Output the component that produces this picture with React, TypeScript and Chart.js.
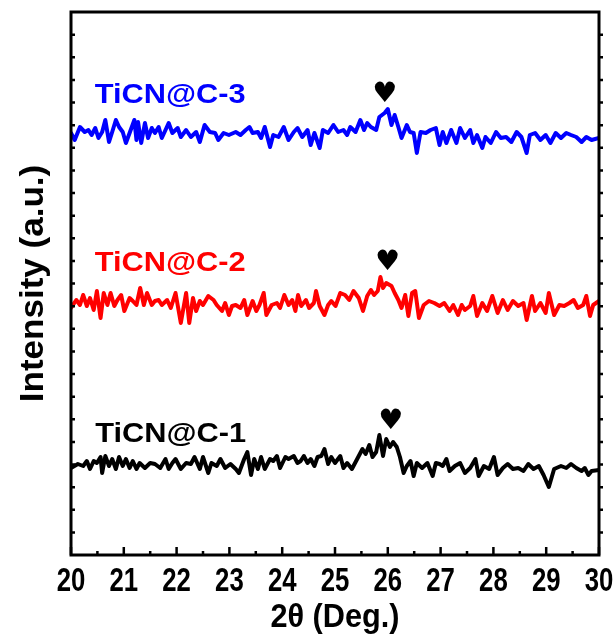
import React, { useEffect, useRef } from "react";
import { Chart, registerables } from "chart.js";

Chart.register(...registerables);

// 2θ (deg) / intensity (a.u.) pairs
const scanC3: [number, number][] = [[20.00,422],[20.07,415],[20.17,428],[20.26,423],[20.33,425],[20.39,420],[20.46,427],[20.52,417],[20.59,423],[20.65,435],[20.72,413],[20.78,423],[20.85,435],[20.91,428],[20.98,423],[21.04,412],[21.11,422],[21.20,435],[21.24,415],[21.27,433],[21.33,412],[21.40,432],[21.46,417],[21.53,427],[21.59,422],[21.66,428],[21.72,417],[21.79,425],[21.85,432],[21.92,422],[22.02,427],[22.08,418],[22.18,425],[22.27,418],[22.37,423],[22.44,413],[22.53,430],[22.63,423],[22.73,422],[22.79,415],[22.89,422],[22.99,420],[23.12,423],[23.21,420],[23.31,425],[23.38,428],[23.44,422],[23.54,423],[23.60,417],[23.67,428],[23.77,408],[23.83,420],[23.93,418],[24.03,428],[24.12,415],[24.22,423],[24.29,427],[24.38,418],[24.48,425],[24.54,410],[24.61,422],[24.71,407],[24.77,425],[24.87,422],[24.97,430],[25.06,423],[25.16,425],[25.23,420],[25.29,428],[25.39,423],[25.48,435],[25.55,425],[25.61,432],[25.68,428],[25.78,425],[25.84,438],[25.94,442],[26.00,446],[26.07,430],[26.13,440],[26.20,428],[26.26,417],[26.36,430],[26.42,423],[26.49,422],[26.55,402],[26.62,423],[26.72,422],[26.81,425],[26.91,427],[26.98,410],[27.04,423],[27.11,412],[27.20,425],[27.30,412],[27.37,427],[27.46,417],[27.56,425],[27.62,412],[27.69,420],[27.79,407],[27.85,418],[27.95,412],[28.05,423],[28.14,417],[28.24,418],[28.34,413],[28.44,423],[28.53,418],[28.63,402],[28.69,420],[28.79,422],[28.89,415],[28.99,420],[29.08,412],[29.18,422],[29.28,417],[29.38,422],[29.47,420],[29.57,418],[29.67,413],[29.76,418],[29.86,415],[30.00,417]];

const scanC2: [number, number][] = [[20.00,247],[20.10,255],[20.17,250],[20.23,260],[20.30,249],[20.36,257],[20.43,245],[20.49,264],[20.56,237],[20.62,262],[20.69,250],[20.75,262],[20.82,249],[20.88,255],[20.95,260],[21.01,244],[21.11,257],[21.17,254],[21.24,250],[21.31,267],[21.38,250],[21.44,262],[21.53,250],[21.59,254],[21.66,255],[21.72,250],[21.82,255],[21.89,247],[21.98,262],[22.08,232],[22.18,262],[22.24,232],[22.31,257],[22.37,244],[22.44,254],[22.50,250],[22.60,259],[22.70,255],[22.76,250],[22.86,244],[22.92,252],[22.99,240],[23.05,249],[23.12,250],[23.21,247],[23.28,255],[23.34,240],[23.44,254],[23.51,244],[23.57,250],[23.65,262],[23.70,240],[23.80,250],[23.90,252],[23.96,247],[24.04,260],[24.12,250],[24.19,255],[24.25,244],[24.30,260],[24.36,249],[24.45,255],[24.51,247],[24.60,252],[24.64,264],[24.71,249],[24.80,240],[24.87,250],[24.93,254],[25.01,249],[25.10,262],[25.19,260],[25.27,255],[25.35,264],[25.45,257],[25.53,244],[25.61,259],[25.68,265],[25.74,260],[25.81,264],[25.86,278],[25.91,267],[25.97,272],[26.07,269],[26.13,262],[26.20,255],[26.26,247],[26.33,260],[26.39,239],[26.46,262],[26.52,264],[26.59,237],[26.68,250],[26.78,254],[26.88,252],[26.98,249],[27.07,252],[27.17,244],[27.24,250],[27.33,240],[27.40,250],[27.46,245],[27.56,249],[27.62,259],[27.69,239],[27.79,252],[27.88,244],[27.98,259],[28.08,242],[28.18,255],[28.27,245],[28.37,254],[28.47,249],[28.57,252],[28.63,235],[28.73,259],[28.79,244],[28.89,252],[28.99,242],[29.05,262],[29.15,240],[29.25,250],[29.34,249],[29.44,252],[29.52,255],[29.60,247],[29.70,250],[29.76,259],[29.83,239],[29.89,250],[30.00,254]];

const scanC1: [number, number][] = [[20.00,87],[20.13,91],[20.23,89],[20.30,94],[20.36,86],[20.43,94],[20.49,92],[20.56,98],[20.59,82],[20.65,99],[20.72,89],[20.78,96],[20.85,86],[20.91,98],[20.98,89],[21.04,96],[21.11,87],[21.17,94],[21.24,86],[21.30,92],[21.40,87],[21.50,92],[21.59,91],[21.69,87],[21.79,96],[21.85,86],[21.92,92],[21.98,96],[22.08,86],[22.18,92],[22.27,91],[22.34,98],[22.44,86],[22.50,98],[22.60,82],[22.66,92],[22.76,89],[22.83,96],[22.92,87],[23.02,91],[23.12,86],[23.18,82],[23.28,96],[23.34,103],[23.41,80],[23.47,96],[23.54,86],[23.60,98],[23.67,86],[23.77,96],[23.83,94],[23.90,99],[23.96,87],[24.06,98],[24.12,96],[24.22,99],[24.29,92],[24.35,94],[24.41,99],[24.48,92],[24.54,96],[24.61,89],[24.67,98],[24.74,99],[24.80,106],[24.87,91],[24.93,98],[25.00,92],[25.10,99],[25.16,87],[25.23,92],[25.32,86],[25.42,96],[25.52,106],[25.58,101],[25.65,110],[25.71,98],[25.78,103],[25.84,120],[25.91,99],[25.97,116],[26.04,108],[26.10,113],[26.17,108],[26.23,98],[26.30,82],[26.36,89],[26.43,94],[26.49,79],[26.55,92],[26.65,87],[26.75,92],[26.85,79],[26.91,92],[26.98,91],[27.04,89],[27.11,96],[27.17,84],[27.27,89],[27.37,92],[27.46,82],[27.56,87],[27.66,96],[27.72,79],[27.82,89],[27.92,86],[28.01,98],[28.08,80],[28.18,87],[28.27,91],[28.37,86],[28.47,87],[28.57,84],[28.66,91],[28.76,86],[28.86,89],[28.95,80],[29.05,68],[29.15,86],[29.28,89],[29.38,87],[29.47,91],[29.57,87],[29.67,84],[29.73,87],[29.80,80],[29.86,84],[30.00,85]];

const xTicks = [20, 21, 22, 23, 24, 25, 26, 27, 28, 29, 30];
const seriesNames = ["TiCN@C-3", "TiCN@C-2", "TiCN@C-1"];
const seriesColors = ["#0000ff", "#ff0000", "#000000"];
const labelTheta = [20.45, 20.45, 20.46];
const labelIntensity = [452, 284, 113];
const heartTheta = [25.95, 26.0, 26.06];
const heartIntensity = [450, 282, 123];
const xTitle = "2θ (Deg.)";
const yTitle = "Intensity (a.u.)";

const X_MIN = 20, X_MAX = 30, Y_MIN = 0, Y_MAX = 543, Y_DIVS = 24;

const FONT = '"Liberation Sans", Arial, sans-serif';

const framePlugin = {
  id: "framePlugin",
  afterDraw(chart: any) {
    const { ctx, chartArea: a, scales } = chart;
    const x = scales.x, y = scales.y;
    ctx.save();
    ctx.strokeStyle = "#000";
    ctx.fillStyle = "#000";
    ctx.lineWidth = 3;
    ctx.strokeRect(a.left, a.top, a.right - a.left, a.bottom - a.top);
    ctx.lineWidth = 2.5;
    ctx.beginPath();
    for (let v = X_MIN; v <= X_MAX + 1e-9; v += 0.5) {
      const px = x.getPixelForValue(v);
      const len = Math.abs(v - Math.round(v)) < 1e-6 ? 8 : 4;
      ctx.moveTo(px, a.bottom);
      ctx.lineTo(px, a.bottom - len);
    }
    for (let i = 1; i < Y_DIVS; i++) {
      const py = y.getPixelForValue(Y_MIN + (i * (Y_MAX - Y_MIN)) / Y_DIVS);
      ctx.moveTo(a.left, py);
      ctx.lineTo(a.left + 4, py);
      ctx.moveTo(a.right, py);
      ctx.lineTo(a.right + 4, py);
    }
    ctx.stroke();

    // tick labels
    ctx.font = `bold 33px ${FONT}`;
    ctx.textAlign = "center";
    ctx.textBaseline = "alphabetic";
    xTicks.forEach((t) => {
      ctx.save();
      ctx.translate(x.getPixelForValue(t), a.bottom + 36);
      ctx.scale(0.78, 1);
      ctx.fillText(String(t), 0, 0);
      ctx.restore();
    });

    // axis titles
    ctx.save();
    ctx.font = `bold 33px ${FONT}`;
    ctx.translate((a.left + a.right) / 2, a.bottom + 72);
    ctx.scale(0.93, 1);
    ctx.fillText(xTitle, 0, 0);
    ctx.restore();

    ctx.save();
    ctx.font = `bold 34px ${FONT}`;
    ctx.translate(43, (a.top + a.bottom) / 2);
    ctx.rotate(-Math.PI / 2);
    ctx.scale(1.03, 1);
    ctx.fillText(yTitle, 0, 0);
    ctx.restore();

    // series labels
    seriesNames.forEach((name, i) => {
      ctx.save();
      ctx.fillStyle = seriesColors[i];
      ctx.font = `bold 28px ${FONT}`;
      ctx.textAlign = "left";
      ctx.translate(x.getPixelForValue(labelTheta[i]), y.getPixelForValue(labelIntensity[i]));
      ctx.scale(1.1, 1);
      ctx.fillText(name, 0, 0);
      ctx.restore();
    });

    // peak markers
    ctx.fillStyle = "#000";
    ctx.font = `bold 28px "DejaVu Sans", sans-serif`;
    ctx.textAlign = "center";
    ctx.textBaseline = "bottom";
    heartTheta.forEach((t, i) => {
      ctx.fillText("♥", x.getPixelForValue(t), y.getPixelForValue(heartIntensity[i]) + 4);
    });
    ctx.restore();
  },
};

export default function App() {
  const ref = useRef<HTMLCanvasElement | null>(null);
  useEffect(() => {
    if (!ref.current) return;
    const scans = [scanC3, scanC2, scanC1];
    const chart = new Chart(ref.current, {
      type: "line",
      data: {
        datasets: scans.map((s, i) => ({
          label: seriesNames[i],
          data: s.map(([t, v]) => ({ x: t, y: v })),
          borderColor: seriesColors[i],
          borderWidth: 4,
          pointRadius: 0,
          tension: 0,
          borderJoinStyle: "round" as const,
          borderCapStyle: "round" as const,
          fill: false,
        })),
      },
      options: {
        responsive: false,
        animation: false,
        layout: { padding: { left: 71, right: 17, top: 12, bottom: 84 } },
        plugins: { legend: { display: false }, tooltip: { enabled: false } },
        scales: {
          x: { type: "linear", min: X_MIN, max: X_MAX, display: false },
          y: { type: "linear", min: Y_MIN, max: Y_MAX, display: false },
        },
      },
      plugins: [framePlugin],
    });
    return () => chart.destroy();
  }, []);
  return (
    <div style={{ position: "absolute", left: 0, top: 0, width: 616, height: 639, background: "#fff" }}>
      <canvas ref={ref} width={616} height={639} />
    </div>
  );
}
